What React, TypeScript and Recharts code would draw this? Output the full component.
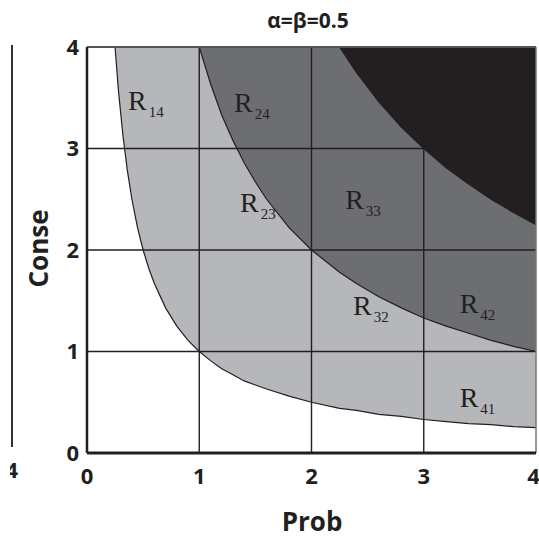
import React from 'react';
import {
  ComposedChart, Area, XAxis, YAxis, ReferenceLine, ReferenceDot, Customized,
} from 'recharts';

// Probability values sampled along the x axis
const probValues = [0, 0.25, 0.28, 0.32, 0.36, 0.4, 0.45, 0.5, 0.55, 0.6, 0.7, 0.8, 0.9, 1, 1.1, 1.2, 1.3, 1.4, 1.5, 1.6, 1.8, 2, 2.25, 2.4, 2.6, 2.8, 3, 3.2, 3.4, 3.6, 3.8, 4];
// Boundary R1 / R2
const boundaryLow = [4, 4, 3.57, 3.13, 2.78, 2.5, 2.22, 2, 1.82, 1.67, 1.43, 1.25, 1.11, 1, 0.91, 0.83, 0.77, 0.71, 0.67, 0.63, 0.56, 0.5, 0.44, 0.42, 0.38, 0.36, 0.33, 0.31, 0.29, 0.28, 0.26, 0.25];
// Boundary R2 / R3
const boundaryMid = [4, 4, 4, 4, 4, 4, 4, 4, 4, 4, 4, 4, 4, 4, 3.64, 3.33, 3.08, 2.86, 2.67, 2.5, 2.22, 2, 1.78, 1.67, 1.54, 1.43, 1.33, 1.25, 1.18, 1.11, 1.05, 1];
// Boundary R3 / R4
const boundaryHigh = [4, 4, 4, 4, 4, 4, 4, 4, 4, 4, 4, 4, 4, 4, 4, 4, 4, 4, 4, 4, 4, 4, 4, 3.75, 3.46, 3.21, 3, 2.81, 2.65, 2.5, 2.37, 2.25];
const topValue = 4;

const axisTicks = [0, 1, 2, 3, 4];
const gridValues = [1, 2, 3];

const regionNames = ['14', '24', '23', '33', '32', '42', '41'];
const regionX = [0.365, 1.31, 1.363, 2.3, 2.37, 3.32, 3.32];
const regionY = [3.38, 3.36, 2.374, 2.4, 1.36, 1.38, 0.453];

const titleText = 'α=β=0.5';
const xLabel = 'Prob';
const yLabel = 'Conse';

const data = probValues.map((p, i) => ({
  p,
  top: topValue,
  high: boundaryHigh[i],
  mid: boundaryMid[i],
  low: boundaryLow[i],
}));

const INK = '#231f20';
const SANS = '"Open Sans", "DejaVu Sans", sans-serif';
const SERIF = '"Liberation Serif", "DejaVu Serif", serif';

const tickStyle = { fontFamily: SANS, fontWeight: 700, fontSize: 22, fill: INK };

const Extras = () => (
  <g>
    <defs>
      <clipPath id="fragClip">
        <rect x={10} y={440} width={20} height={60} />
      </clipPath>
    </defs>
    <text x={308} y={28} textAnchor="middle" fontFamily={SANS} fontWeight={700} fontSize={21} fill={INK}>{titleText}</text>
    <text x={312} y={531} textAnchor="middle" fontFamily={SANS} fontWeight={700} fontSize={26} fill={INK}>{xLabel}</text>
    <text x={48} y={248.5} textAnchor="middle" transform="rotate(-90 48 248.5)" fontFamily={SANS} fontWeight={700} fontSize={26} fill={INK}>{yLabel}</text>
    <line x1={12} y1={45} x2={12} y2={447} stroke="#333" strokeWidth={2} />
    <g clipPath="url(#fragClip)">
      <text x={18} y={478} textAnchor="end" fontFamily={SANS} fontWeight={700} fontSize={22} fill={INK}>4</text>
    </g>
  </g>
);

export default function App() {
  return (
    <div style={{ width: 539, height: 540, position: 'relative', background: '#fff' }}>
      <style>{`body{margin:0;background:#fff}`}</style>
      <ComposedChart width={539} height={540} data={data} margin={{ top: 47, right: 3, left: 0, bottom: 0 }}>
        <XAxis
          dataKey="p"
          type="number"
          domain={[0, 4]}
          ticks={axisTicks}
          tickLine={false}
          tickSize={0}
          tickMargin={15}
          height={87}
          axisLine={{ stroke: INK, strokeWidth: 3 }}
          tick={tickStyle}
        />
        <YAxis
          type="number"
          domain={[0, 4]}
          ticks={axisTicks}
          tickLine={false}
          tickSize={0}
          tickMargin={8}
          width={87}
          axisLine={{ stroke: INK, strokeWidth: 2.5 }}
          tick={tickStyle}
        />
        <Area type="linear" dataKey="top" fill={INK} fillOpacity={1} stroke="none" isAnimationActive={false} />
        <Area type="linear" dataKey="high" fill="#6d6e71" fillOpacity={1} stroke={INK} strokeWidth={1.2} isAnimationActive={false} />
        <Area type="linear" dataKey="mid" fill="#b6b7ba" fillOpacity={1} stroke={INK} strokeWidth={1.2} isAnimationActive={false} />
        <Area type="linear" dataKey="low" fill="#ffffff" fillOpacity={1} stroke={INK} strokeWidth={1.2} isAnimationActive={false} />
        {gridValues.map((v) => (
          <ReferenceLine key={'gx' + v} x={v} stroke={INK} strokeWidth={1.4} />
        ))}
        {gridValues.map((v) => (
          <ReferenceLine key={'gy' + v} y={v} stroke={INK} strokeWidth={1.4} />
        ))}
        <ReferenceLine y={4} stroke="#555" strokeWidth={2} />
        <ReferenceLine x={4} stroke="#777" strokeWidth={1.5} />
        {regionNames.map((name, i) => (
          <ReferenceDot
            key={name}
            x={regionX[i]}
            y={regionY[i]}
            r={0}
            shape={(props: any) => (
              <text x={props.cx} y={props.cy} fontFamily={SERIF} fontSize={28} fill={INK}>
                R<tspan dx={2} dy={7} fontSize={15}>{name}</tspan>
              </text>
            )}
          />
        ))}
        <Customized component={Extras} />
      </ComposedChart>
    </div>
  );
}
